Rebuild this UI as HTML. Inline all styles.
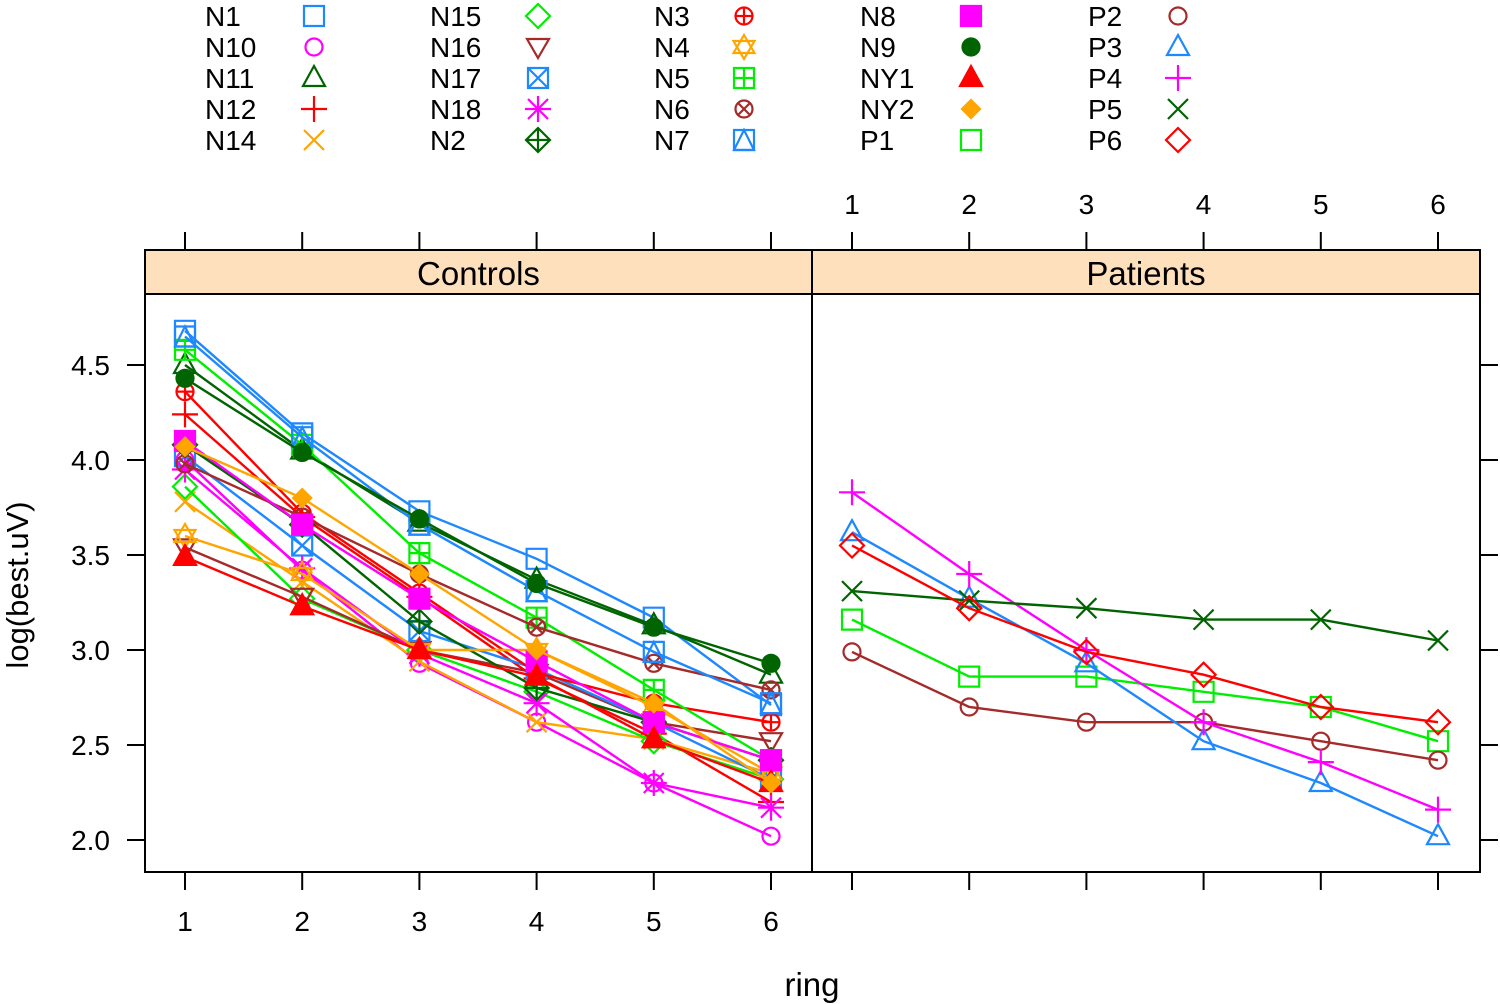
<!DOCTYPE html>
<html><head><meta charset="utf-8"><style>
body{margin:0;background:#fff}
svg{display:block;font-family:"Liberation Sans",sans-serif}
</style></head><body>
<svg id="c" width="1500" height="1004" viewBox="0 0 1500 1004"></svg>
<script>
const rings = [1,2,3,4,5,6];
const yTicks = [2.0,2.5,3.0,3.5,4.0,4.5];
const yTickLabels = ["2.0","2.5","3.0","3.5","4.0","4.5"];
const panelNames = ["Controls","Patients"];
const controlNames = ["N1","N10","N11","N12","N14","N15","N16","N17","N18","N2","N3","N4","N5","N6","N7","N8","N9","NY1","NY2"];
const N1=[4.68,4.14,3.73,3.48,3.17,2.71];
const N10=[4.00,3.42,2.93,2.62,2.30,2.02];
const N11=[4.50,4.05,3.67,3.37,3.13,2.87];
const N12=[4.24,3.70,3.28,2.85,2.56,2.20];
const N14=[3.78,3.36,2.94,2.62,2.53,2.35];
const N15=[3.86,3.27,3.00,2.78,2.52,2.32];
const N16=[3.54,3.28,3.00,2.88,2.62,2.52];
const N17=[4.02,3.55,3.10,2.90,2.62,2.32];
const N18=[3.95,3.43,2.98,2.72,2.30,2.17];
const N2=[4.08,3.66,3.15,2.80,2.62,2.42];
const N3=[4.36,3.72,3.30,2.88,2.72,2.62];
const N4=[3.60,3.40,3.00,3.00,2.70,2.35];
const N5=[4.58,4.08,3.51,3.17,2.79,2.42];
const N6=[3.98,3.70,3.40,3.12,2.93,2.79];
const N7=[4.65,4.12,3.66,3.31,2.99,2.72];
const N8=[4.10,3.66,3.27,2.94,2.62,2.42];
const N9=[4.43,4.04,3.69,3.35,3.12,2.93];
const NY1=[3.49,3.23,3.00,2.86,2.53,2.30];
const NY2=[4.07,3.80,3.40,3.00,2.72,2.30];
const patientNames = ["P1","P2","P3","P4","P5","P6"];
const P1=[3.16,2.86,2.86,2.78,2.70,2.52];
const P2=[2.99,2.70,2.62,2.62,2.52,2.42];
const P3=[3.62,3.27,2.93,2.52,2.30,2.02];
const P4=[3.83,3.40,3.00,2.62,2.41,2.16];
const P5=[3.31,3.26,3.22,3.16,3.16,3.05];
const P6=[3.55,3.22,2.99,2.87,2.70,2.62];
const controlData=[N1,N10,N11,N12,N14,N15,N16,N17,N18,N2,N3,N4,N5,N6,N7,N8,N9,NY1,NY2];
const patientData=[P1,P2,P3,P4,P5,P6];

const styleMap={
N1:["#1e88ff","square"],N10:["#ff00ff","circle"],N11:["#006400","tri"],N12:["#ff0000","plus"],N14:["#ffa500","x"],
N15:["#00ee00","diamond"],N16:["#a52a2a","dtri"],N17:["#1e88ff","boxx"],N18:["#ff00ff","ast"],N2:["#006400","diamplus"],
N3:["#ff0000","circplus"],N4:["#ffa500","star"],N5:["#00ee00","boxplus"],N6:["#a52a2a","circx"],N7:["#1e88ff","boxtri"],
N8:["#ff00ff","fsquare"],N9:["#006400","fcircle"],NY1:["#ff0000","ftri"],NY2:["#ffa500","fdiamond"],
P1:["#00ee00","square"],P2:["#a52a2a","circle"],P3:["#1e88ff","tri"],P4:["#ff00ff","plus"],P5:["#006400","x"],P6:["#ff0000","diamond"]};

const svg=document.getElementById('c');
const NS='http://www.w3.org/2000/svg';
function el(tag,attrs,parent){const e=document.createElementNS(NS,tag);for(const k in attrs)e.setAttribute(k,attrs[k]);(parent||svg).appendChild(e);return e;}

const PY0=294,PY1=872,STRIP=250;
const panels=[{x0:145,x1:812},{x0:812,x1:1480}];
function xs(p,r){return panels[p].x0+40+(r-1)*117.2;}
function ys(v){return 840-(v-2)*190;}

function sym(g,shape,cx,cy,col){
 const s=10, a={fill:'none',stroke:col,'stroke-width':2.2};
 const P=(d,f)=>el('path',Object.assign({},a,{d:d},f?{fill:col}:{}),g);
 const sq=()=>P(`M${cx-s} ${cy-s}h${2*s}v${2*s}h${-2*s}z`);
 const tr=(f)=>P(`M${cx} ${cy-s*1.2}L${cx+s*1.1} ${cy+s*0.8}L${cx-s*1.1} ${cy+s*0.8}z`,f);
 const ci=(f)=>el('circle',Object.assign({},a,{cx:cx,cy:cy,r:s*0.85},f?{fill:col}:{}),g);
 const dm=(f)=>P(`M${cx} ${cy-s*1.2}L${cx+s*1.2} ${cy}L${cx} ${cy+s*1.2}L${cx-s*1.2} ${cy}z`,f);
 const pl=(k)=>P(`M${cx-k} ${cy}h${2*k}M${cx} ${cy-k}v${2*k}`);
 const xx=(k)=>P(`M${cx-k} ${cy-k}l${2*k} ${2*k}M${cx-k} ${cy+k}l${2*k} ${-2*k}`);
 switch(shape){
  case 'square':sq();break;
  case 'fsquare':P(`M${cx-s} ${cy-s}h${2*s}v${2*s}h${-2*s}z`,true);break;
  case 'circle':ci();break;
  case 'fcircle':ci(true);break;
  case 'tri':tr();break;
  case 'ftri':tr(true);break;
  case 'dtri':P(`M${cx} ${cy+s*1.1}L${cx+s*1.1} ${cy-s*0.8}L${cx-s*1.1} ${cy-s*0.8}z`);break;
  case 'plus':pl(s*1.3);break;
  case 'x':xx(s);break;
  case 'diamond':dm();break;
  case 'fdiamond':P(`M${cx} ${cy-s*0.9}L${cx+s*0.9} ${cy}L${cx} ${cy+s*0.9}L${cx-s*0.9} ${cy}z`,true);break;
  case 'boxx':sq();xx(s);break;
  case 'boxplus':sq();pl(s);break;
  case 'boxtri':sq();P(`M${cx} ${cy-s}L${cx+s} ${cy+s}L${cx-s} ${cy+s}z`);break;
  case 'ast':pl(s*1.3);xx(s);break;
  case 'diamplus':dm();pl(s*1.2);break;
  case 'circplus':ci();pl(s*0.85);break;
  case 'circx':ci();xx(s*0.6);break;
  case 'star':P(`M${cx} ${cy-s*1.2}L${cx+s*1.05} ${cy+s*0.6}L${cx-s*1.05} ${cy+s*0.6}z`);P(`M${cx} ${cy+s*1.2}L${cx+s*1.05} ${cy-s*0.6}L${cx-s*1.05} ${cy-s*0.6}z`);break;
 }
}

// legend
const legendOrder=["N1","N10","N11","N12","N14","N15","N16","N17","N18","N2","N3","N4","N5","N6","N7","N8","N9","NY1","NY2","P1","P2","P3","P4","P5","P6"];
const legCols=[[205,314],[430,538],[654,744],[860,971],[1088,1178]];
legendOrder.forEach((n,i)=>{
 const c=Math.floor(i/5),r=i%5,y=16+r*31;
 const g=el('g',{});
 
 
 const t=el('text',{x:legCols[c][0],y:y+10,'font-size':28,fill:'#000'},g);t.textContent=n;
 sym(g,styleMap[n][1],legCols[c][1],y,styleMap[n][0]);
});

// panels
panels.forEach((p,pi)=>{
 const g=el('g',{});
 
 
 const st=el('rect',{x:p.x0,y:STRIP,width:p.x1-p.x0,height:PY0-STRIP,fill:'#ffe0bc',stroke:'#000','stroke-width':2},g);
 
 
 const tt=el('text',{x:(p.x0+p.x1)/2,y:285,'font-size':33,'text-anchor':'middle'},g);tt.textContent=panelNames[pi];
 el('rect',{x:p.x0,y:PY0,width:p.x1-p.x0,height:PY1-PY0,fill:'none',stroke:'#000','stroke-width':2},g);
 rings.forEach(r=>{
  const x=xs(pi,r);
  el('line',{x1:x,x2:x,y1:PY1,y2:PY1+18,stroke:'#000','stroke-width':2},g);
  el('line',{x1:x,x2:x,y1:STRIP,y2:STRIP-18,stroke:'#000','stroke-width':2},g);
  if(pi===0){const t=el('text',{x:x,y:931,'font-size':28,'text-anchor':'middle'},g);t.textContent=r;}
  else{const t=el('text',{x:x,y:214,'font-size':28,'text-anchor':'middle'},g);t.textContent=r;}
 });
});
yTicks.forEach((v,i)=>{
 const y=ys(v);
 el('line',{x1:145,x2:127,y1:y,y2:y,stroke:'#000','stroke-width':2});
 el('line',{x1:1480,x2:1498,y1:y,y2:y,stroke:'#000','stroke-width':2});
 const t=el('text',{x:110,y:y+10,'font-size':28,'text-anchor':'end'});t.textContent=yTickLabels[i];
});
const yl=el('text',{x:0,y:0,'font-size':31,'text-anchor':'middle',transform:'translate(28,585) rotate(-90)'});yl.textContent='log(best.uV)';

const xl=el('text',{x:812,y:996,'font-size':33,'text-anchor':'middle'});xl.textContent='ring';


function drawSeries(pi,names,data){
 names.forEach((n,i)=>{
  const [col,shape]=styleMap[n];
  const g=el('g',{});
  
  
  const pts=data[i].map((v,j)=>xs(pi,rings[j])+','+ys(v)).join(' ');
  el('polyline',{points:pts,fill:'none',stroke:col,'stroke-width':2.4},g);
  data[i].forEach((v,j)=>sym(g,shape,xs(pi,rings[j]),ys(v),col));
 });
}
drawSeries(0,controlNames,controlData);
drawSeries(1,patientNames,patientData);
</script>
</body></html>
